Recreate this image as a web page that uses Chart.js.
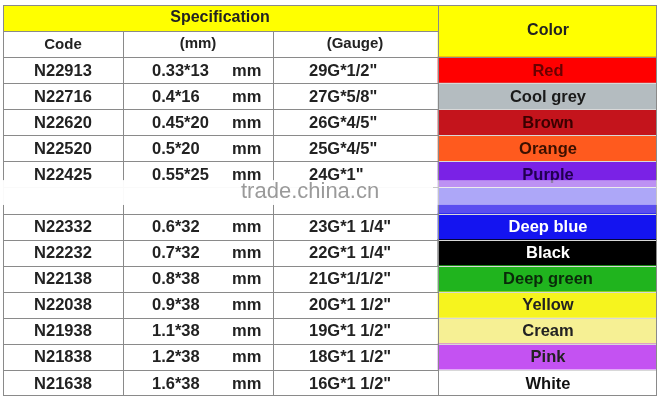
<!DOCTYPE html>
<html><head><meta charset="utf-8">
<script src="https://cdn.jsdelivr.net/npm/chart.js@4"></script>
<style>html,body{margin:0;padding:0;background:#fff}#c{display:block}</style>
</head><body>
<div style="width:660px;height:400px"><canvas id="c"></canvas></div>
<script>
const rows = ['h1','h2','N22913','N22716','N22620','N22520','N22425','hidden','N22332','N22232','N22138','N22038','N21938','N21838','N21638'];
const codes = ['N22913','N22716','N22620','N22520','N22425','','N22332','N22232','N22138','N22038','N21938','N21838','N21638'];
const mmVals = ['0.33*13','0.4*16','0.45*20','0.5*20','0.55*25','','0.6*32','0.7*32','0.8*38','0.9*38','1.1*38','1.2*38','1.6*38'];
const gauges = ['29G*1/2"','27G*5/8"','26G*4/5"','25G*4/5"','24G*1"','','23G*1 1/4"','22G*1 1/4"','21G*1/1/2"','20G*1 1/2"','19G*1 1/2"','18G*1 1/2"','16G*1 1/2"'];
const colorNames = ['Red','Cool grey','Brown','Orange','Purple','','Deep blue','Black','Deep green','Yellow','Cream','Pink','White'];
const colorFills = ['#ff0000','#b4bcc0','#c4141c','#ff5a1e','#7a22e6','#5a4ef0','#1414f0','#000000','#20b41e','#f6f41e','#f6f094','#c452f2','#ffffff'];
const textColors = ['#6a0000','#1a1a1a','#3a0000','#3a1000','#200050','#fff','#ffffff','#ffffff','#0a2a0a','#222','#222','#222','#111'];

const colorData = rows.map(()=> [435,654]);
const colorBg = rows.map((r,i)=> i<2 ? '#ffff00' : colorFills[i-2]);
const specData = rows.map((r,i)=> i===0 ? [0,435] : null);

const tablePlugin = {
  id:'table',
  afterDatasetsDraw(chart){
    const ctx=chart.ctx, x=chart.scales.x, y=chart.scales.y;
    const rh = y.getPixelForValue(1)-y.getPixelForValue(0);
    const top=i=>y.getPixelForValue(i)-rh/2;
    ctx.save();
    ctx.strokeStyle='#8a8a8a'; ctx.lineWidth=1;
    const X=v=>x.getPixelForValue(v);
    ctx.strokeRect(X(0)+.5,top(0)+.5,X(654)-X(0)-1,top(15)-top(0)-1);
    for(let i=1;i<15;i++){
      ctx.beginPath();
      const x1 = i===1 ? X(435) : X(654);
      ctx.moveTo(X(0),Math.round(top(i))+.5); ctx.lineTo(x1,Math.round(top(i))+.5); ctx.stroke();
    }
    [120,270].forEach(c=>{ctx.beginPath();ctx.moveTo(Math.round(X(c))+.5,top(1));ctx.lineTo(Math.round(X(c))+.5,top(15));ctx.stroke();});
    ctx.beginPath();ctx.moveTo(Math.round(X(435))+.5,top(0));ctx.lineTo(Math.round(X(435))+.5,top(15));ctx.stroke();
    ctx.strokeStyle='#d8d8d8';
    for(let i=3;i<15;i++){ctx.beginPath();ctx.moveTo(X(436),Math.round(top(i))+.5);ctx.lineTo(X(653),Math.round(top(i))+.5);ctx.stroke();}
    ctx.textBaseline='middle';
    ctx.font='bold 16px "Liberation Sans", Arial, sans-serif';
    ctx.fillStyle='#222'; ctx.textAlign='center';
    ctx.fillText('Specification',X(217),y.getPixelForValue(0));
    ctx.fillText('Color',X(545),top(1));
    ctx.font='bold 15px "Liberation Sans", Arial, sans-serif';
    ctx.fillText('Code',X(60),y.getPixelForValue(1)+1);
    ctx.fillText('(mm)',X(195),y.getPixelForValue(1));
    ctx.fillText('(Gauge)',X(352),y.getPixelForValue(1));
    ctx.font='bold 16.5px "Liberation Sans", Arial, sans-serif';
    for(let k=0;k<codes.length;k++){
      const cy=y.getPixelForValue(k+2)+1;
      if(!codes[k]) continue;
      ctx.fillStyle='#222'; ctx.textAlign='center';
      ctx.fillText(codes[k],X(60),cy);
      ctx.textAlign='left';
      ctx.fillText(mmVals[k],X(149),cy);
      ctx.fillText('mm',X(229),cy);
      ctx.fillText(gauges[k],X(306),cy);
      ctx.textAlign='center'; ctx.fillStyle=textColors[k];
      ctx.fillText(colorNames[k],X(545),cy);
    }
    const wy=top(6)+rh*0.72;
    ctx.fillStyle='rgba(255,255,255,0.5)';
    ctx.fillRect(X(0),wy,X(654)-X(0),rh*0.95);
    ctx.fillStyle='rgba(255,255,255,0.9)';
    ctx.fillRect(X(0),wy,X(430)-X(0),rh*0.95);
    ctx.fillStyle='#9a9a9a'; ctx.textAlign='left';
    ctx.font='22px "Liberation Sans", Arial, sans-serif';
    ctx.fillText('trade.china.cn',X(238),wy+rh*0.47);
    ctx.restore();
  }
};

new Chart(document.getElementById('c'),{
  type:'bar',
  data:{labels:rows,datasets:[
    {data:colorData,backgroundColor:colorBg,barPercentage:1,categoryPercentage:1,grouped:false,borderWidth:0},
    {data:specData,backgroundColor:'#ffff00',barPercentage:1,categoryPercentage:1,grouped:false,borderWidth:0}
  ]},
  options:{indexAxis:'y',responsive:true,maintainAspectRatio:false,animation:false,
    layout:{padding:{left:3,right:3,top:5,bottom:4}},
    plugins:{legend:{display:false},tooltip:{enabled:false}},
    scales:{x:{type:'linear',min:0,max:654,display:false},y:{display:false,offset:true}}
  },
  plugins:[tablePlugin]
});
</script>
</body></html>
